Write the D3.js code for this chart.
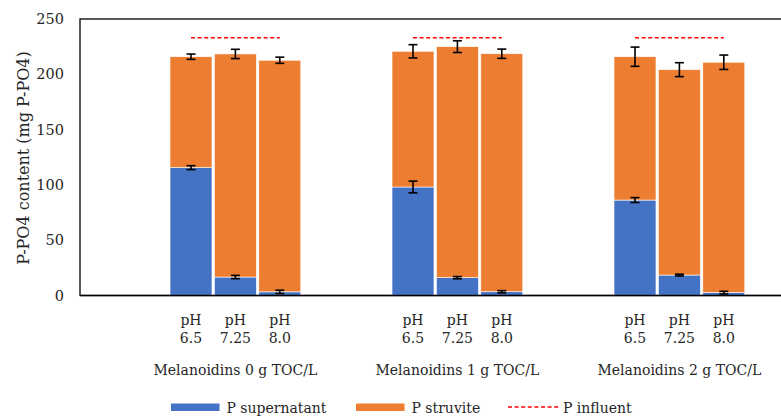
<!DOCTYPE html>
<html>
<head>
<meta charset="utf-8">
<script src="https://cdn.jsdelivr.net/npm/d3@7"></script>
<style>
  html, body { margin: 0; padding: 0; background: #fff; }
  svg { display: block; }
  text { font-family: "DejaVu Serif", serif; fill: #262626; }
</style>
</head>
<body>
<svg id="chart" width="781" height="416"></svg>
<script>
// Melanoidin concentration groups and pH set-points
const groups = ["Melanoidins 0 g TOC/L", "Melanoidins 1 g TOC/L", "Melanoidins 2 g TOC/L"];
const phLevels = ["6.5", "7.25", "8.0"];

// P-PO4 (mg) per bar, ordered group by group, pH 6.5 / 7.25 / 8.0
const pSupernatant = [115.6, 16.7, 3.3, 98.1, 16.1, 3.4, 86.3, 18.5, 2.6];
const pStruvite = [100.3, 201.7, 209.4, 122.7, 208.9, 215.2, 129.6, 185.7, 208.3];
const errSupernatant = [1.8, 1.5, 1.5, 5.3, 1.0, 1.0, 2.2, 0.8, 1.2];
const errTotal = [2.4, 4.2, 2.8, 6.0, 5.3, 4.2, 8.7, 6.3, 6.5];
const pInfluent = [233, 233, 233];

const yTicks = [0, 50, 100, 150, 200, 250];
const seriesNames = ["P supernatant", "P struvite", "P influent"];
const colors = { sup: "#4472C4", str: "#ED7D31", inf: "#FF0000" };

const svg = d3.select("#chart");

// category slots: two empty slots before each group, one trailing
const slots = [];
groups.forEach((g, gi) => {
  slots.push(`gap${gi}a`, `gap${gi}b`);
  phLevels.forEach(p => slots.push(`${gi}|${p}`));
});
slots.push("gapEnd");

const plotLeft = 80, plotTop = 19, plotBottom = 295.5, step = 44.4;
const x = d3.scaleBand().domain(slots).range([plotLeft, plotLeft + step * slots.length]).paddingInner(0.055).paddingOuter(0.0275);
const y = d3.scaleLinear().domain([0, 250]).range([plotBottom, plotTop]);

const bars = [];
groups.forEach((g, gi) => phLevels.forEach((p, pi) => {
  const i = gi * 3 + pi;
  bars.push({ key: `${gi}|${p}`, sup: pSupernatant[i], str: pStruvite[i], eS: errSupernatant[i], eT: errTotal[i] });
}));

// plot frame (right side runs off the canvas)
svg.append("rect")
  .attr("x", plotLeft).attr("y", plotTop)
  .attr("width", step * slots.length).attr("height", plotBottom - plotTop)
  .attr("fill", "none").attr("stroke", "#000").attr("stroke-width", 1.3);

// y axis labels
const yAxis = d3.axisLeft(y).tickValues(yTicks).tickSize(0).tickPadding(16);
const yg = svg.append("g").attr("transform", `translate(${plotLeft},0)`).call(yAxis);
yg.select(".domain").remove();
yg.selectAll("text").style("font-family", "DejaVu Serif, serif").style("font-size", "14.5px").attr("fill", "#262626");

svg.append("text")
  .attr("transform", `translate(29,158) rotate(-90)`)
  .attr("text-anchor", "middle")
  .style("font-size", "16px")
  .text("P-PO4 content (mg P-PO4)");

// stacked bars
const bw = x.bandwidth();
const barG = svg.append("g");
bars.forEach(d => {
  barG.append("rect")
    .attr("x", x(d.key)).attr("y", y(d.sup))
    .attr("width", bw).attr("height", y(0) - y(d.sup))
    .attr("fill", colors.sup).attr("stroke", "#fff").attr("stroke-width", 0.6);
  barG.append("rect")
    .attr("x", x(d.key)).attr("y", y(d.sup + d.str))
    .attr("width", bw).attr("height", y(d.sup) - y(d.sup + d.str))
    .attr("fill", colors.str).attr("stroke", "#fff").attr("stroke-width", 0.6);
});

// bottom axis line over the bars
svg.append("line")
  .attr("x1", plotLeft).attr("x2", 781).attr("y1", plotBottom).attr("y2", plotBottom)
  .attr("stroke", "#000").attr("stroke-width", 1.3);

// error bars
function errorBar(cx, v, e) {
  const g = svg.append("g").attr("stroke", "#000").attr("stroke-width", 1.6);
  g.append("line").attr("x1", cx).attr("x2", cx).attr("y1", y(v - e)).attr("y2", y(v + e));
  [v - e, v + e].forEach(t => g.append("line").attr("x1", cx - 4.5).attr("x2", cx + 4.5).attr("y1", y(t)).attr("y2", y(t)));
}
bars.forEach(d => {
  const cx = x(d.key) + bw / 2;
  errorBar(cx, d.sup, d.eS);
  errorBar(cx, d.sup + d.str, d.eT);
});

// influent reference lines, from first to last bar centre in each group
groups.forEach((g, gi) => {
  const x1 = x(`${gi}|${phLevels[0]}`) + bw / 2;
  const x2 = x(`${gi}|${phLevels[2]}`) + bw / 2;
  svg.append("line")
    .attr("x1", x1).attr("x2", x2).attr("y1", y(pInfluent[gi])).attr("y2", y(pInfluent[gi]))
    .attr("stroke", colors.inf).attr("stroke-width", 1.6).attr("stroke-dasharray", "4,2.6");
});

// category labels
bars.forEach(d => {
  const cx = x(d.key) + bw / 2;
  const ph = d.key.split("|")[1];
  svg.append("text").attr("x", cx).attr("y", 325).attr("text-anchor", "middle").style("font-size", "14px").text("pH");
  svg.append("text").attr("x", cx).attr("y", 343).attr("text-anchor", "middle").style("font-size", "14px").text(ph);
});
groups.forEach((g, gi) => {
  const cx = x(`${gi}|${phLevels[1]}`) + bw / 2;
  svg.append("text").attr("x", cx).attr("y", 375).attr("text-anchor", "middle").style("font-size", "14px").text(g);
});

// legend
const legend = [
  { name: seriesNames[0], type: "rect", color: colors.sup, x: 171 },
  { name: seriesNames[1], type: "rect", color: colors.str, x: 356 },
  { name: seriesNames[2], type: "dash", color: colors.inf, x: 508 }
];
legend.forEach(l => {
  if (l.type === "rect") {
    svg.append("rect").attr("x", l.x).attr("y", 403.5).attr("width", 48.5).attr("height", 7.5).attr("fill", l.color);
  } else {
    svg.append("line").attr("x1", l.x).attr("x2", l.x + 52).attr("y1", 407).attr("y2", 407)
      .attr("stroke", l.color).attr("stroke-width", 1.6).attr("stroke-dasharray", "4,2.6");
  }
  svg.append("text").attr("x", l.x + (l.type === "rect" ? 55.5 : 55)).attr("y", 412.5).style("font-size", "14px").text(l.name);
});
</script>
</body>
</html>
